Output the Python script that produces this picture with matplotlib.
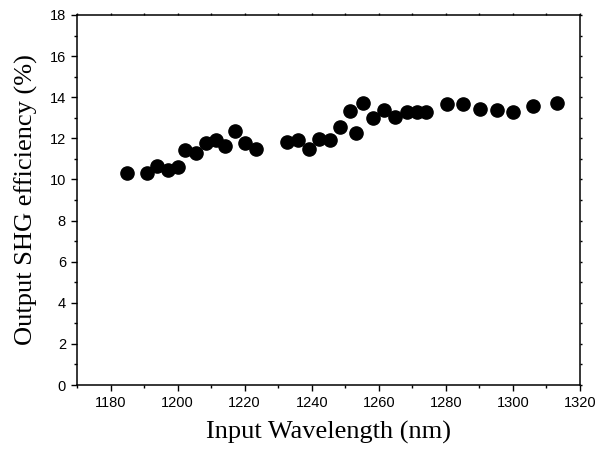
import matplotlib
matplotlib.use("Agg")
import matplotlib.pyplot as plt
from matplotlib.ticker import MultipleLocator

# wavelength (nm) and SHG efficiency (%)
wavelength = [1184.9, 1191.0, 1194.0, 1197.0, 1200.2, 1202.2, 1205.4, 1208.5,
              1211.4, 1214.2, 1217.2, 1220.2, 1223.3, 1232.6, 1235.8, 1239.1,
              1242.2, 1245.3, 1248.5, 1251.5, 1253.2, 1255.2, 1258.4, 1261.7,
              1264.9, 1268.3, 1271.3, 1274.1, 1280.3, 1285.2, 1290.2, 1295.2,
              1300.0, 1306.1, 1313.1]
efficiency = [10.33, 10.30, 10.65, 10.46, 10.60, 11.43, 11.27, 11.79,
              11.92, 11.63, 12.37, 11.76, 11.47, 11.83, 11.92, 11.48,
              11.96, 11.92, 12.56, 13.34, 12.27, 13.73, 13.00, 13.38,
              13.05, 13.27, 13.27, 13.27, 13.65, 13.65, 13.41, 13.37,
              13.27, 13.59, 13.73]

fig = plt.figure(figsize=(5.97, 4.53), dpi=100)
ax = fig.add_axes([0.129, 0.150, 0.8425, 0.817])

ax.plot(wavelength, efficiency, "o", color="black", ms=9.5, mec="black")

ax.set_xlim(1170, 1320)
ax.set_ylim(0, 18)
ax.xaxis.set_major_locator(MultipleLocator(20))
ax.xaxis.set_minor_locator(MultipleLocator(10))
ax.yaxis.set_major_locator(MultipleLocator(2))
ax.yaxis.set_minor_locator(MultipleLocator(1))

for s in ax.spines.values():
    s.set_linewidth(1.1)

ax.tick_params(which="both", direction="out", top=True, right=True, width=1.0,
               labeltop=False, labelright=False)
ax.tick_params(which="major", length=4.5)
ax.tick_params(which="minor", length=2.5)
# top/right ticks are barely visible stubs in the original
for t in ax.xaxis.get_major_ticks() + ax.xaxis.get_minor_ticks():
    t.tick2line.set_markersize(1.2)
for t in ax.yaxis.get_major_ticks() + ax.yaxis.get_minor_ticks():
    t.tick2line.set_markersize(1.2)
for lab in ax.get_xticklabels() + ax.get_yticklabels():
    lab.set_fontfamily("Liberation Sans")
    lab.set_fontsize(10.5)

labfont = {"family": "Liberation Serif", "size": 19}
ax.set_xlabel("Input Wavelength (nm)", fontdict=labfont, labelpad=8)
ax.set_ylabel("Output SHG efficiency (%)", fontdict=labfont, labelpad=8)

fig.savefig("out.png", dpi=100)
